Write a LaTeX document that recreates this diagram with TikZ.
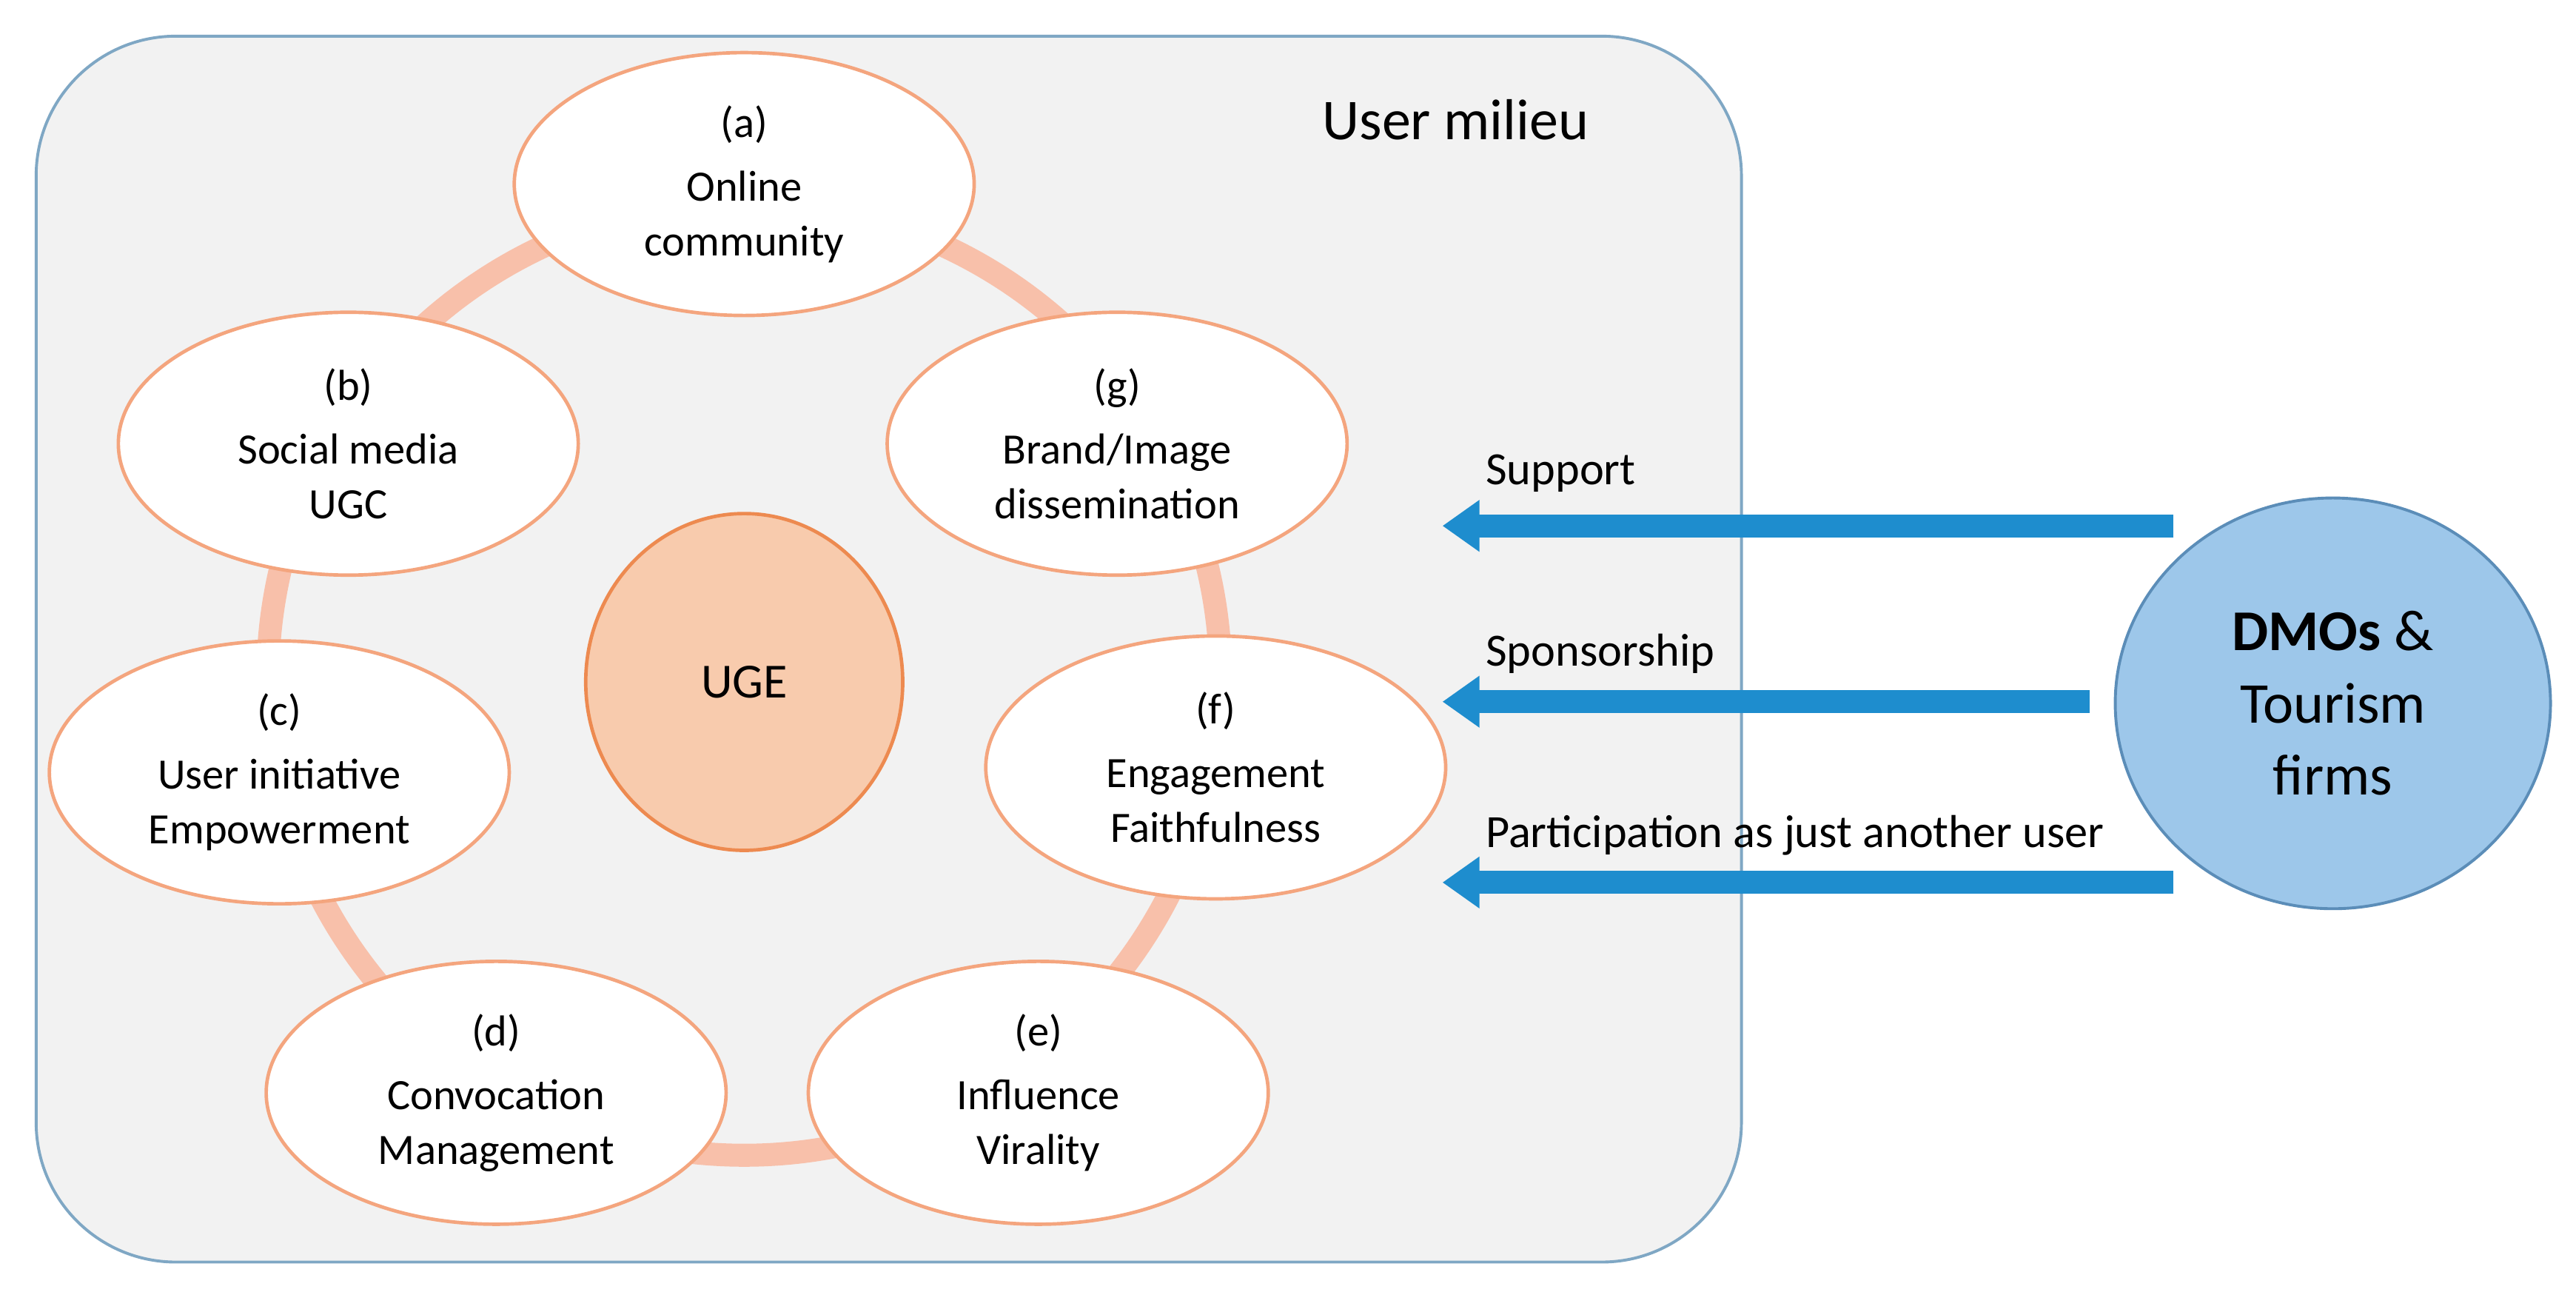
\documentclass[tikz,border=0pt]{standalone}
\usepackage{fontspec}
\setmainfont{Carlito}
\usetikzlibrary{arrows.meta,shapes.geometric}
\definecolor{boxfill}{HTML}{F2F2F2}
\definecolor{boxline}{HTML}{7FA7C4}
\definecolor{ring}{HTML}{F8C0AA}
\definecolor{ellline}{HTML}{F4A57E}
\definecolor{ugefill}{HTML}{F8CBAD}
\definecolor{ugeline}{HTML}{ED8A50}
\definecolor{dmofill}{HTML}{9DC7EA}
\definecolor{dmoline}{HTML}{5B8DB8}
\definecolor{arr}{HTML}{1E8DCE}
\begin{document}
\begin{tikzpicture}[x=0.02cm,y=-0.02cm,
  el/.style={ellipse,draw=ellline,line width=1.2pt,fill=white,minimum width=5.6cm,minimum height=3.2cm,align=center,inner sep=0pt,font=\fontsize{15}{19}\selectfont},
  arrow/.style={draw=arr,line width=8pt,-{Triangle[length=0.45cm,width=0.6cm]}},
  lab/.style={anchor=south west,inner sep=0pt,font=\fontsize{16}{19}\selectfont}]
\useasboundingbox (0,0) rectangle (1568,788);
\draw[fill=boxfill,draw=boxline,line width=1pt,rounded corners=1.7cm] (22,22) rectangle (1060,768);
\node[font=\fontsize{20}{24}\selectfont] (um) at (886,73) {User milieu};
\draw[ring,line width=14*0.02cm] (453,413) circle[radius=290];
\node[el] (a) at (453,112) {(a)\\[3pt]Online\\community};
\node[el] (b) at (212,270) {(b)\\[3pt]Social media\\UGC};
\node[el] (c) at (170,470) {(c)\\[3pt]User initiative\\Empowerment};
\node[el] (d) at (302,665) {(d)\\[3pt]Convocation\\Management};
\node[el] (e) at (632,665) {(e)\\[3pt]Influence\\Virality};
\node[el] (f) at (740,467) {(f)\\[3pt]Engagement\\Faithfulness};
\node[el] (g) at (680,270) {(g)\\[3pt]Brand/Image\\dissemination};
\node[ellipse,draw=ugeline,line width=1.2pt,fill=ugefill,minimum width=3.86cm,minimum height=4.1cm,font=\fontsize{17}{20}\selectfont] (uge) at (453,415) {UGE};
\node[ellipse,draw=dmoline,line width=1pt,fill=dmofill,minimum width=5.3cm,minimum height=5cm,align=center,font=\fontsize{20}{25}\selectfont] (dmo) at (1420,428) {\textbf{DMOs} \&\\Tourism\\firms};
\coordinate (s1) at (1323,320); \coordinate (t1) at (878,320);
\coordinate (s2) at (1272,427); \coordinate (t2) at (878,427);
\coordinate (s3) at (1323,537); \coordinate (t3) at (878,537);
\draw[arrow] (s1) -- (t1);
\draw[arrow] (s2) -- (t2);
\draw[arrow] (s3) -- (t3);
\node[lab] (l1) at (904,300) {Support};
\node[lab] (l2) at (904,410) {Sponsorship};
\node[lab] (l3) at (904,521) {Participation as just another user};
\end{tikzpicture}
\end{document}
